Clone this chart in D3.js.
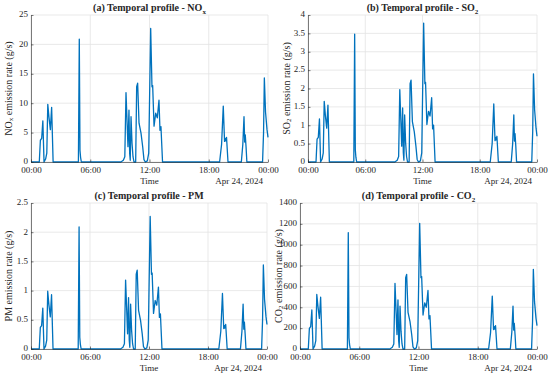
<!DOCTYPE html>
<html>
<head>
<meta charset="utf-8">
<script src="https://cdn.jsdelivr.net/npm/d3@7"></script>
<style>
  body { margin: 0; background: #fff; }
  text { font-family: "Liberation Serif", "Times New Roman", serif; fill: #262626; }
</style>
</head>
<body>
<svg id="chart" width="550" height="375"></svg>
<script>
// hours since 00:00 on Apr 24, 2024
const hours = [0, 0.84, 0.95, 1.08, 1.2, 1.32, 1.48, 1.6, 1.7, 1.82, 1.96, 2.09, 2.24,
  4.8, 4.89, 4.96, 5.02, 5.1,
  9.1, 9.35, 9.5, 9.62, 9.76, 9.82, 9.92, 9.99, 10.05, 10.13, 10.23, 10.33, 10.43,
  10.6, 10.7, 10.8, 10.94, 11.14, 11.31, 11.44, 11.58, 11.78, 11.92,
  12.12, 12.25, 12.32, 12.46, 12.63, 12.79, 12.96, 13.06, 13.16, 13.32,
  19.1, 19.3, 19.47, 19.6, 19.66, 19.72, 19.8, 19.95,
  21.3, 21.45, 21.57, 21.64, 21.7, 21.78, 21.86,
  23.45, 23.55, 23.63, 23.75, 23.9, 24.0];

const nox = [0, 0, 3.7, 4.0, 7.0, 0, 0.5, 1.5, 9.8, 7.6, 5.5, 9.3, 0,
  0, 20.9, 2.0, 0.8, 0,
  0, 0.3, 0.9, 11.8, 5.4, 2.6, 8.8, 1.5, 0.3, 7.7, 3.2, 0.9, 0,
  0, 12.8, 13.4, 6.6, 4.9, 2.6, 0.4, 0, 0.2, 1.5,
  22.7, 12.8, 13.0, 6.1, 8.3, 7.5, 10.5, 5.4, 6.0, 0,
  0, 3.0, 9.5, 3.5, 4.0, 3.6, 4.2, 0,
  0, 3.0, 7.7, 3.4, 4.6, 2.5, 0,
  0, 5.0, 14.3, 8.5, 5.5, 4.2];

const so2 = [0, 0, 0.62, 0.67, 1.17, 0, 0.08, 0.25, 1.65, 1.27, 0.92, 1.55, 0,
  0, 3.48, 0.33, 0.13, 0,
  0, 0.05, 0.15, 1.97, 0.9, 0.43, 1.47, 0.25, 0.05, 1.28, 0.53, 0.15, 0,
  0, 2.13, 2.23, 1.1, 0.82, 0.43, 0.07, 0, 0.03, 0.25,
  3.78, 2.13, 2.17, 1.02, 1.38, 1.25, 1.75, 0.9, 1.0, 0,
  0, 0.5, 1.58, 0.58, 0.67, 0.6, 0.7, 0,
  0, 0.5, 1.28, 0.57, 0.77, 0.42, 0,
  0, 0.83, 2.4, 1.42, 0.92, 0.7];

const pm = [0, 0, 0.37, 0.4, 0.7, 0, 0.05, 0.15, 0.99, 0.76, 0.55, 0.93, 0,
  0, 2.09, 0.2, 0.08, 0,
  0, 0.03, 0.09, 1.18, 0.54, 0.26, 0.88, 0.15, 0.03, 0.77, 0.32, 0.09, 0,
  0, 1.28, 1.35, 0.66, 0.49, 0.26, 0.04, 0, 0.02, 0.15,
  2.27, 1.28, 1.3, 0.61, 0.83, 0.75, 1.06, 0.54, 0.6, 0,
  0, 0.3, 0.95, 0.35, 0.4, 0.36, 0.42, 0,
  0, 0.3, 0.77, 0.34, 0.46, 0.25, 0,
  0, 0.5, 1.44, 0.85, 0.55, 0.42];

const co2 = [0, 0, 198, 214, 374, 0, 27, 80, 523, 406, 294, 497, 0,
  0, 1116, 107, 43, 0,
  0, 16, 48, 630, 288, 139, 470, 80, 16, 411, 171, 48, 0,
  0, 684, 716, 352, 262, 139, 21, 0, 11, 80,
  1205, 684, 694, 326, 443, 400, 561, 288, 320, 0,
  0, 160, 507, 187, 214, 192, 224, 0,
  0, 160, 411, 182, 246, 134, 0,
  0, 267, 764, 454, 294, 224];

const xTickHours = [0, 6, 12, 18, 24];
const dateLabel = "Apr 24, 2024";
const noxTicks = [0, 5, 10, 15, 20, 25];
const so2Ticks = [0, 0.5, 1, 1.5, 2, 2.5, 3, 3.5, 4];
const pmTicks = [0, 0.5, 1, 1.5, 2, 2.5];
const co2Ticks = [0, 200, 400, 600, 800, 1000, 1200, 1400];

const start = new Date(2024, 3, 24, 0, 0);
const toDate = (h) => new Date(start.getTime() + h * 3600e3);

const panels = [
  { tag: "(a)", name: "NO", sub: "x", values: nox, ticks: noxTicks,
    box: { left: 31, right: 268, top: 15, bottom: 162 }, labelX: 8 },
  { tag: "(b)", name: "SO", sub: "2", values: so2, ticks: so2Ticks,
    box: { left: 308, right: 537, top: 15, bottom: 162 }, labelX: 286 },
  { tag: "(c)", name: "PM", sub: "", values: pm, ticks: pmTicks,
    box: { left: 31, right: 267, top: 203, bottom: 349 }, labelX: 8 },
  { tag: "(d)", name: "CO", sub: "2", values: co2, ticks: co2Ticks,
    box: { left: 300, right: 537, top: 203, bottom: 349 }, labelX: 278 },
];

const svg = d3.select("#chart");
const gridColor = "#e3e3e3";

panels.forEach((p) => {
  const b = p.box;
  const data = hours.map((h, i) => ({ date: toDate(h), value: p.values[i] }));

  const x = d3.scaleTime([toDate(0), toDate(24)], [b.left, b.right]);
  const y = d3.scaleLinear(d3.extent(p.ticks), [b.bottom, b.top]);

  const g = svg.append("g");

  // grid lines
  g.append("g")
    .selectAll("line")
    .data(xTickHours)
    .join("line")
    .attr("x1", (d) => x(toDate(d)))
    .attr("x2", (d) => x(toDate(d)))
    .attr("y1", b.top)
    .attr("y2", b.bottom)
    .attr("stroke", gridColor)
    .attr("stroke-width", 0.8);
  g.append("g")
    .selectAll("line")
    .data(p.ticks)
    .join("line")
    .attr("x1", b.left)
    .attr("x2", b.right)
    .attr("y1", (d) => y(d))
    .attr("y2", (d) => y(d))
    .attr("stroke", gridColor)
    .attr("stroke-width", 0.8);

  // the profile
  g.append("path")
    .datum(data)
    .attr("fill", "none")
    .attr("stroke", "#0072BD")
    .attr("stroke-width", 1.3)
    .attr("stroke-linejoin", "round")
    .attr("d", d3.line().x((d) => x(d.date)).y((d) => y(d.value)));

  // x axis
  g.append("g")
    .attr("transform", `translate(0,${b.bottom})`)
    .call(
      d3.axisBottom(x)
        .tickValues(xTickHours.map(toDate))
        .tickFormat(d3.timeFormat("%H:%M"))
        .tickSizeInner(-2.5)
        .tickSizeOuter(0)
        .tickPadding(5),
    )
    .call((ax) => ax.selectAll("text").attr("font-size", 9))
    .call((ax) => ax.selectAll("line, path").attr("stroke", "#262626").attr("stroke-width", 0.6));

  // y axis
  g.append("g")
    .attr("transform", `translate(${b.left},0)`)
    .call(
      d3.axisLeft(y)
        .tickValues(p.ticks)
        .tickFormat((d) => d)
        .tickSizeInner(-2.5)
        .tickSizeOuter(0)
        .tickPadding(3),
    )
    .call((ax) => ax.selectAll("text").attr("font-size", 9).attr("dy", "0.2em"))
    .call((ax) => ax.selectAll("line, path").attr("stroke", "#262626").attr("stroke-width", 0.6));

  // x label + date
  g.append("text")
    .attr("x", (b.left + b.right) / 2)
    .attr("y", b.bottom + 22)
    .attr("text-anchor", "middle")
    .attr("font-size", 9)
    .text("Time");
  g.append("text")
    .attr("x", b.right - 5)
    .attr("y", b.bottom + 22)
    .attr("text-anchor", "end")
    .attr("font-size", 9)
    .text(dateLabel);

  // title
  const title = g.append("text")
    .attr("x", (b.left + b.right) / 2)
    .attr("y", b.top - 4)
    .attr("text-anchor", "middle")
    .attr("font-size", 10)
    .attr("font-weight", "bold")
    .text(`${p.tag} Temporal profile - ${p.name}`);
  if (p.sub) title.append("tspan").attr("dy", 2.5).attr("font-size", 7).text(p.sub);

  // y label
  const cy = (b.top + b.bottom) / 2;
  const yl = g.append("text")
    .attr("transform", `translate(${p.labelX},${cy}) rotate(-90)`)
    .attr("text-anchor", "middle")
    .attr("dominant-baseline", "central")
    .attr("font-size", 10)
    .text(p.name);
  if (p.sub) yl.append("tspan").attr("dy", 2.5).attr("font-size", 7).text(p.sub);
  yl.append("tspan").attr("dy", p.sub ? -2.5 : 0).text(" emission rate (g/s)");
});
</script>
</body>
</html>
